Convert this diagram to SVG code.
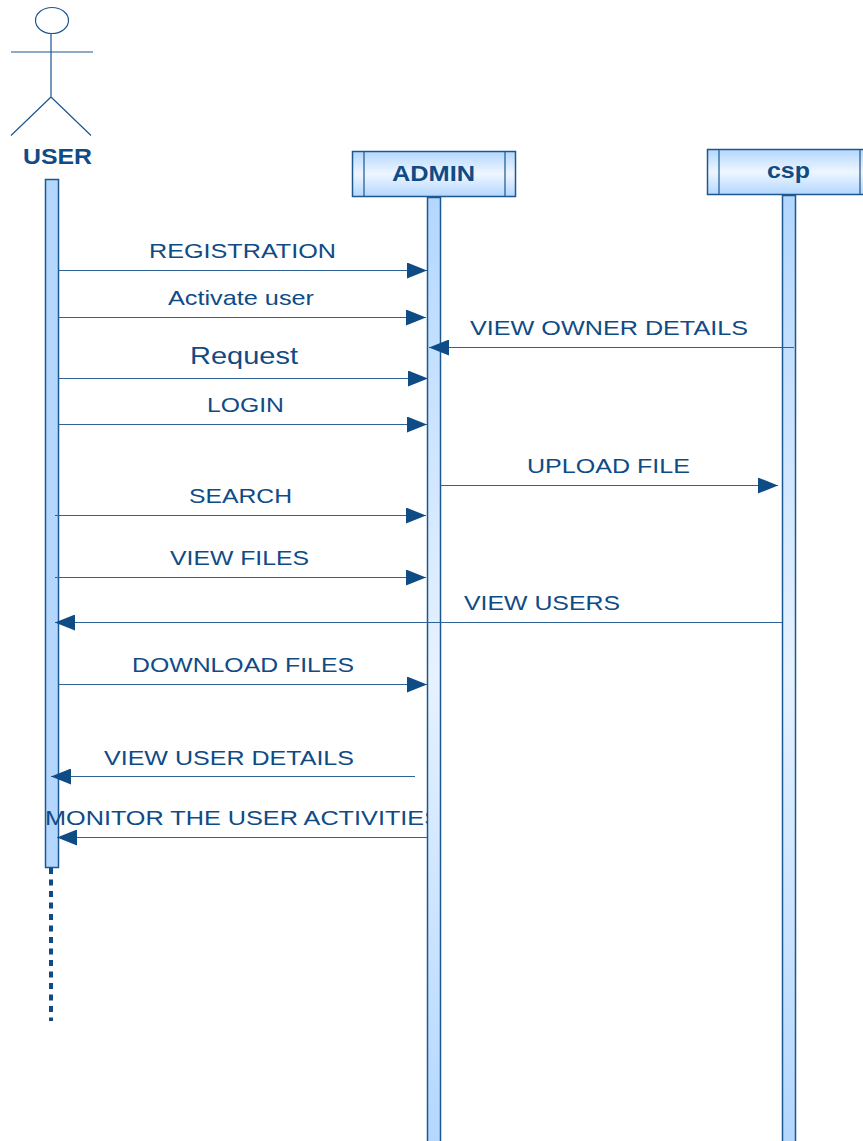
<svg xmlns="http://www.w3.org/2000/svg" width="863" height="1141" viewBox="0 0 863 1141">
<defs>
<linearGradient id="hd" x1="0" y1="0" x2="0" y2="1"><stop offset="0" stop-color="#b3d7ff"/><stop offset="0.5" stop-color="#eef6ff"/><stop offset="1" stop-color="#b3d7ff"/></linearGradient>
<linearGradient id="ll" x1="0" y1="0" x2="0" y2="1"><stop offset="0" stop-color="#b3d7ff"/><stop offset="0.5" stop-color="#e6f2ff"/><stop offset="1" stop-color="#b3d7ff"/></linearGradient>
<marker id="ah" markerUnits="userSpaceOnUse" markerWidth="20" markerHeight="16" refX="20" refY="8" orient="auto"><path d="M0 0L20 8L0 16Z" fill="#0f4b85"/></marker>
<clipPath id="cut"><rect x="0" y="790" width="428" height="60"/></clipPath>
</defs>
<style>
.l{fill:none;stroke:#1c5790;stroke-width:1.2}
.m{fill:none;stroke:#2f6396;stroke-width:1.2;marker-end:url(#ah)}
.a{fill:#b3d7ff;stroke:#1c5790;stroke-width:1.5}
.g{fill:url(#ll);stroke:#1c5790;stroke-width:1.5}
.h{fill:url(#hd);stroke:#1c5790;stroke-width:1.5}
text{font-family:"Liberation Sans",Arial,sans-serif;fill:#0f4b85;font-size:21px;text-anchor:start}
.b{font-weight:bold;font-size:22px}
</style>
<g id="user">
<ellipse class="l" cx="52" cy="20.500" rx="16.500" ry="13"/>
<path class="l" d="M51 33V97M11 52H93M51 97L11 135.500M51 97L91 135.500"/>
<text class="b" x="23" y="164" textLength="69" lengthAdjust="spacingAndGlyphs">USER</text>
<rect class="a" x="45.500" y="179.500" width="13" height="688"/>
<path d="M51 868V1021" fill="none" stroke="#0f4b85" stroke-width="4" stroke-dasharray="6 5.500"/>
</g>
<g id="admin">
<rect class="h" x="352.500" y="151.500" width="163" height="45"/>
<path class="l" d="M364 151.500V196.500M505 151.500V196.500"/>
<text class="b" x="392" y="181" textLength="83" lengthAdjust="spacingAndGlyphs">ADMIN</text>
<rect class="g" x="427.500" y="197.500" width="13" height="950"/>
</g>
<g id="csp">
<rect class="h" x="707.500" y="149.500" width="160" height="45"/>
<path class="l" d="M719 149.500V194.500M860 149.500V194.500"/>
<text class="b" x="767" y="178" textLength="43" lengthAdjust="spacingAndGlyphs">csp</text>
<rect class="g" x="782.500" y="195.500" width="13" height="950"/>
</g>
<g id="connectors">
<path class="m" d="M58 270.500H427"/>
<path class="m" d="M58 317.500H426"/>
<path class="m" d="M794 347.500H429"/>
<path class="m" d="M58 378.500H428"/>
<path class="m" d="M58 424.500H427"/>
<path class="m" d="M440 485.500H778"/>
<path class="m" d="M55 515.500H426"/>
<path class="m" d="M55 577.500H426"/>
<path class="m" d="M782 622.500H55"/>
<path class="m" d="M58 684.500H427"/>
<path class="m" d="M415 776.500H51"/>
<path class="m" d="M427 837.500H57"/>
</g>
<g id="labels">
<text x="149" y="258" textLength="187" lengthAdjust="spacingAndGlyphs">REGISTRATION</text>
<text x="168" y="305" textLength="146" lengthAdjust="spacingAndGlyphs">Activate user</text>
<text x="470" y="335" textLength="278" lengthAdjust="spacingAndGlyphs">VIEW OWNER DETAILS</text>
<text x="190" y="364" style="font-size:24px" textLength="108" lengthAdjust="spacingAndGlyphs">Request</text>
<text x="207" y="412" textLength="77" lengthAdjust="spacingAndGlyphs">LOGIN</text>
<text x="527" y="473" textLength="163" lengthAdjust="spacingAndGlyphs">UPLOAD FILE</text>
<text x="189" y="503" textLength="103" lengthAdjust="spacingAndGlyphs">SEARCH</text>
<text x="170" y="565" textLength="139" lengthAdjust="spacingAndGlyphs">VIEW FILES</text>
<text x="464" y="610" textLength="156" lengthAdjust="spacingAndGlyphs">VIEW USERS</text>
<text x="132" y="672" textLength="222" lengthAdjust="spacingAndGlyphs">DOWNLOAD FILES</text>
<text x="104" y="765" textLength="250" lengthAdjust="spacingAndGlyphs">VIEW USER DETAILS</text>
<text x="45" y="825" textLength="396" lengthAdjust="spacingAndGlyphs" clip-path="url(#cut)">MONITOR THE USER ACTIVITIES</text>
</g>
</svg>
